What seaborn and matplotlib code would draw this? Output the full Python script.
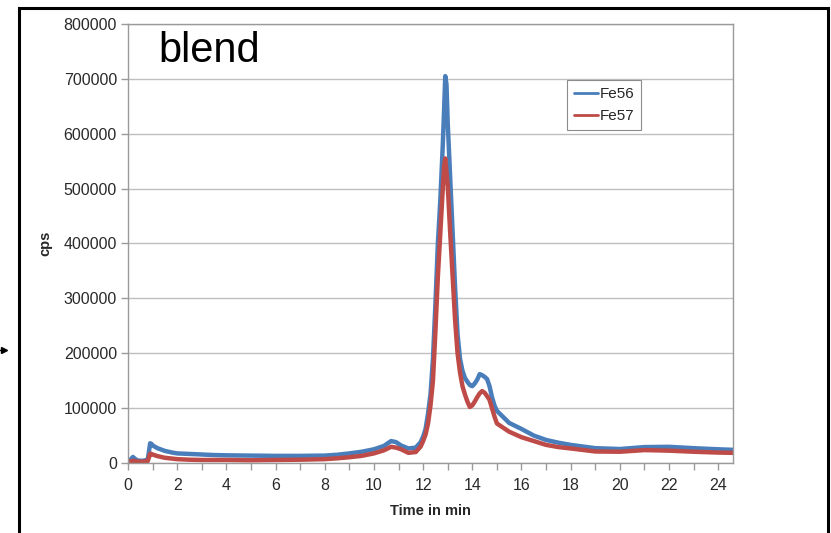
import matplotlib
matplotlib.use("Agg")
import matplotlib.pyplot as plt
from matplotlib.ticker import MultipleLocator
from matplotlib.patches import Rectangle
from matplotlib.lines import Line2D
import seaborn as sns
import pandas as pd

time_min = [0, 0.1, 0.2, 0.3, 0.4, 0.6, 0.8, 0.85, 0.9, 0.95, 1.0, 1.2, 1.5, 1.8, 2.0, 2.5,
            3.0, 3.5, 4.0, 5.0, 6.0, 7.0, 8.0, 8.5, 9.0, 9.5, 10.0, 10.4, 10.7, 10.9, 11.1,
            11.4, 11.7, 11.9, 12.0, 12.1, 12.2, 12.3, 12.4, 12.5, 12.6, 12.7, 12.8, 12.85,
            12.9, 12.95, 13.0, 13.1, 13.2, 13.3, 13.4, 13.5, 13.6, 13.7, 13.8, 13.9, 14.0,
            14.1, 14.2, 14.3, 14.4, 14.5, 14.6, 14.7, 14.8, 14.9, 15.0, 15.5, 16.0, 16.5,
            17.0, 17.5, 18.0, 19.0, 20.0, 21.0, 22.0, 23.0, 24.0, 24.6]

fe56 = [4500, 6000, 11000, 7000, 4500, 4000, 6000, 20000, 36000, 35000, 32000, 27000, 22000,
        19000, 17500, 16500, 15500, 14500, 14000, 13500, 13000, 13000, 13500, 15000, 17500,
        20500, 25000, 31000, 40000, 38000, 32000, 26500, 28000, 38000, 48000, 62000, 90000,
        125000, 190000, 290000, 400000, 480000, 580000, 640000, 705000, 690000, 620000,
        520000, 420000, 320000, 235000, 190000, 168000, 155000, 148000, 142000, 140000,
        145000, 152000, 162000, 160000, 157000, 153000, 140000, 120000, 105000, 95000,
        73000, 62000, 50000, 42000, 37000, 33000, 27000, 25500, 29000, 29500, 27000, 25000,
        24000]

fe57 = [2500, 3000, 4000, 3500, 2500, 2500, 3500, 10000, 17000, 16500, 15500, 12500, 9500,
        8000, 7000, 6000, 5500, 5500, 5500, 5000, 5500, 6000, 7000, 8500, 10500, 13000,
        17500, 23000, 29500, 28000, 25000, 18500, 20000, 30000, 40000, 52000, 72000, 105000,
        150000, 240000, 340000, 420000, 500000, 540000, 555000, 530000, 505000, 420000,
        340000, 260000, 200000, 165000, 140000, 125000, 112000, 102000, 105000, 112000,
        120000, 127000, 131000, 128000, 122000, 115000, 100000, 85000, 72000, 57000, 47000,
        40000, 33000, 29000, 26500, 21000, 20500, 23500, 22500, 20500, 19000, 18500]

series_names = ["Fe56", "Fe57"]
series_colors = ["#4A7EBB", "#BE4B48"]

df = pd.concat([
    pd.DataFrame({"Time in min": time_min, "cps": fe56, "series": "Fe56"}),
    pd.DataFrame({"Time in min": time_min, "cps": fe57, "series": "Fe57"}),
])

sns.set_style("white")
plt.rcParams["font.family"] = ["Liberation Sans", "DejaVu Sans"]

fig = plt.figure(figsize=(8.31, 5.33), dpi=100)
ax = fig.add_axes([128 / 831, 1 - 463 / 533, (733 - 128) / 831, (463 - 24) / 533])

sns.lineplot(data=df, x="Time in min", y="cps", hue="series", hue_order=series_names,
             palette=series_colors, linewidth=3.2, ax=ax, legend=False)

ax.set_xlim(0, 24.6)
ax.set_ylim(0, 800000)
ax.xaxis.set_major_locator(MultipleLocator(2))
ax.xaxis.set_minor_locator(MultipleLocator(1))
ax.yaxis.set_major_locator(MultipleLocator(100000))
ax.yaxis.grid(True, color="#BFBFBF", linewidth=1)
ax.set_axisbelow(True)
for s in ax.spines.values():
    s.set_color("#9A9A9A")
    s.set_linewidth(1)
ax.tick_params(axis="both", which="both", direction="out", length=5, width=1,
               color="#9A9A9A", labelsize=11.5, labelcolor="#2A2A2A")
ax.tick_params(axis="x", which="both", bottom=True, pad=6)
ax.tick_params(axis="y", left=True, pad=3)
ax.set_xticks(ax.get_xticks())
ax.set_xticklabels([f"{int(v)}" for v in ax.get_xticks()])
ax.set_yticks(ax.get_yticks())
ax.set_yticklabels([f"{int(v)}" for v in ax.get_yticks()])
ax.set_xlim(0, 24.6)
ax.set_ylim(0, 800000)

ax.set_xlabel("Time in min", fontsize=10.5, fontweight="bold", labelpad=8)
ax.set_ylabel("cps", fontsize=10.5, fontweight="bold", labelpad=8)

ax.text(0.051, 0.913, "blend", transform=ax.transAxes, fontsize=30,
        ha="left", va="baseline", color="black")

handles = [Line2D([], [], color=c, linewidth=2) for c in series_colors]
leg = ax.legend(handles, series_names, loc="upper left",
                bbox_to_anchor=((567 - 128) / 605, (463 - 80) / 439),
                borderaxespad=0, fontsize=11, handlelength=1.6, handletextpad=0.1,
                labelspacing=0.55, borderpad=0.45, fancybox=False, framealpha=1)
leg.get_frame().set_edgecolor("#8C8C8C")
leg.get_frame().set_linewidth(0.8)

fig.patches.append(Rectangle((18.5 / 831, -0.05), (828 - 18.5) / 831, 1.05 - 7.5 / 533,
                             transform=fig.transFigure, fill=False, edgecolor="black",
                             linewidth=2.2, zorder=10))
fig.lines.append(Line2D([0.0, 4 / 831], [1 - 350 / 533, 1 - 350 / 533], transform=fig.transFigure,
                        color="black", linewidth=1, marker=">", markevery=[1], markersize=4))

fig.savefig("out.png", dpi=100)
